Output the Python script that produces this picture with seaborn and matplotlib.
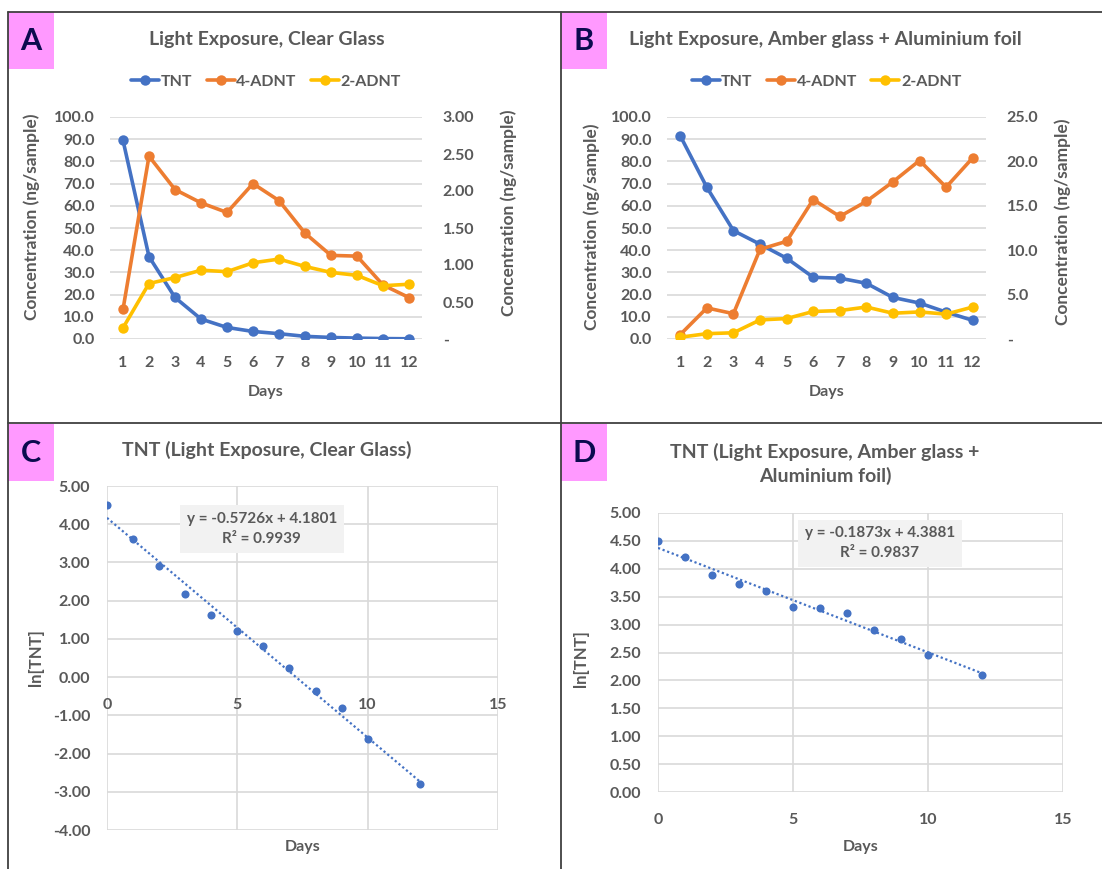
import matplotlib
matplotlib.use("Agg")
import matplotlib.pyplot as plt
import seaborn as sns
import numpy as np
from matplotlib.lines import Line2D
from matplotlib.patches import Rectangle
from matplotlib.ticker import FixedLocator, FixedFormatter

# ---- data ----
days = [1, 2, 3, 4, 5, 6, 7, 8, 9, 10, 11, 12]

# panel A: clear glass
a_tnt = [89.5, 37.1, 18.7, 9.0, 5.2, 3.4, 2.4, 1.2, 0.7, 0.4, 0.2, 0.1]
a_4adnt = [0.40, 2.47, 2.02, 1.84, 1.71, 2.10, 1.87, 1.43, 1.13, 1.12, 0.73, 0.56]
a_2adnt = [0.15, 0.75, 0.83, 0.93, 0.91, 1.03, 1.08, 0.98, 0.90, 0.86, 0.72, 0.74]

# panel B: amber glass + aluminium foil
b_tnt = [91.5, 68.3, 48.8, 42.7, 36.4, 27.8, 27.4, 25.1, 18.7, 16.2, 12.1, 8.4]
b_4adnt = [0.5, 3.5, 2.85, 10.1, 11.0, 15.7, 13.8, 15.5, 17.7, 20.1, 17.1, 20.4]
b_2adnt = [0.2, 0.6, 0.7, 2.15, 2.3, 3.1, 3.2, 3.6, 2.9, 3.05, 2.8, 3.6]

# panels C / D: ln[TNT] vs days
fit_days = [0, 1, 2, 3, 4, 5, 6, 7, 8, 9, 10, 12]
c_ln_tnt = [4.49, 3.61, 2.92, 2.17, 1.63, 1.20, 0.82, 0.25, -0.37, -0.81, -1.63, -2.79]
d_ln_tnt = [4.50, 4.22, 3.88, 3.72, 3.60, 3.32, 3.29, 3.21, 2.91, 2.75, 2.46, 2.09]

left_ticks = [0, 10, 20, 30, 40, 50, 60, 70, 80, 90, 100]
left_labels = ['0.0', '10.0', '20.0', '30.0', '40.0', '50.0', '60.0', '70.0', '80.0', '90.0', '100.0']
a_right_ticks = [0, 0.5, 1.0, 1.5, 2.0, 2.5, 3.0]
a_right_labels = ['-', '0.50', '1.00', '1.50', '2.00', '2.50', '3.00']
b_right_ticks = [0, 5, 10, 15, 20, 25]
b_right_labels = ['-', '5.0', '10.0', '15.0', '20.0', '25.0']
c_yticks = [-4, -3, -2, -1, 0, 1, 2, 3, 4, 5]
d_yticks = [0, 0.5, 1.0, 1.5, 2.0, 2.5, 3.0, 3.5, 4.0, 4.5, 5.0]
fit_xticks = [0, 5, 10, 15]

c_eq = "y = -0.5726x + 4.1801\nR\u00b2 = 0.9939"
d_eq = "y = -0.1873x + 4.3881\nR\u00b2 = 0.9837"

BLUE = '#4472C4'
ORANGE = '#ED7D31'
YELLOW = '#FFC000'
TEXT = '#595959'
GRID = '#D9D9D9'

W, H = 1102, 869

sns.set_theme(style="white")
plt.rcParams['font.family'] = ['Lato', 'DejaVu Sans']
plt.rcParams['axes.unicode_minus'] = False


def add_ax(fig, x0, y0, x1, y1):
    # pixel box -> figure fraction
    return fig.add_axes([x0 / W, 1 - y1 / H, (x1 - x0) / W, (y1 - y0) / H])


def style_ticks(ax, size=11.5):
    ax.tick_params(axis='both', length=0, labelsize=size, labelcolor=TEXT)
    for lab in ax.get_xticklabels() + ax.get_yticklabels():
        lab.set_fontweight('bold')


def line_panel(fig, box, tnt, adnt4, adnt2, rticks, rlabels, title, tx, lab_left, lab_right):
    ax = add_ax(fig, *box)
    ax2 = ax.twinx()
    kw = dict(marker='o', linewidth=2.6, markersize=7.5, markeredgewidth=0)
    sns.lineplot(x=days, y=tnt, ax=ax, color=BLUE, label='TNT', **kw)
    sns.lineplot(x=days, y=adnt4, ax=ax2, color=ORANGE, label='4-ADNT', **kw)
    sns.lineplot(x=days, y=adnt2, ax=ax2, color=YELLOW, label='2-ADNT', **kw)
    h1, l1 = ax.get_legend_handles_labels()
    h2, l2 = ax2.get_legend_handles_labels()
    ax.get_legend().remove()
    ax2.get_legend().remove()

    ax.set_xlim(0.5, 12.5)
    ax.set_ylim(0, 100)
    ax2.set_ylim(rticks[0], rticks[-1])
    ax.set_xticks(days)
    ax.set_xticklabels([str(d) for d in days])
    ax.yaxis.set_major_locator(FixedLocator(left_ticks))
    ax.yaxis.set_major_formatter(FixedFormatter(left_labels))
    ax2.yaxis.set_major_locator(FixedLocator(rticks))
    ax2.yaxis.set_major_formatter(FixedFormatter(rlabels))
    ax.grid(axis='y', color=GRID, linewidth=1.2)
    ax.set_axisbelow(True)
    for a in (ax, ax2):
        for s in a.spines.values():
            s.set_visible(False)
    style_ticks(ax)
    style_ticks(ax2)
    ax.tick_params(axis='x', pad=12)
    ax.tick_params(axis='y', pad=11)
    ax2.tick_params(axis='y', pad=15)

    ax.set_ylabel('Concentration (ng/sample)', color=TEXT, fontsize=12.5, fontweight='bold')
    ax2.set_ylabel('Concentration (ng/sample)', color=TEXT, fontsize=12.5, fontweight='bold')
    ax.yaxis.set_label_coords(lab_left[0], lab_left[1])
    ax2.yaxis.set_label_coords(lab_right[0], lab_right[1])
    ax.set_xlabel('')
    ax.text(0.5, -0.24, 'Days', transform=ax.transAxes, ha='center', va='center',
            color=TEXT, fontsize=11.5, fontweight='bold')

    fig.text(tx / W, 1 - 39 / H, title, ha='center', va='center', color=TEXT,
             fontsize=14, fontweight='bold')
    ax.legend(h1 + h2, l1 + l2, loc='center', bbox_to_anchor=(0.5, 1.16), ncol=3,
              frameon=False, handlelength=1.75, handletextpad=0.1, columnspacing=0.9,
              prop=dict(size=11.5, weight='bold'), labelcolor=TEXT)
    return ax


def fit_panel(fig, box, y, yticks, ylim, fmt, eq, eq_pos, xlab_y, at_zero):
    ax = add_ax(fig, *box)
    sns.regplot(x=fit_days, y=y, ax=ax, ci=None, color=BLUE,
                scatter_kws=dict(s=34, linewidths=0, alpha=1),
                line_kws=dict(linestyle=(0, (1, 1.2)), linewidth=1.6))
    ax.set_xlim(0, 15)
    ax.set_ylim(*ylim)
    ax.set_xticks(fit_xticks)
    ax.set_yticks(yticks)
    ax.set_yticklabels([fmt % v for v in yticks])
    ax.grid(True, color=GRID, linewidth=1.2)
    ax.set_axisbelow(True)
    for s in ax.spines.values():
        s.set_visible(False)
    if at_zero:
        ax.spines['bottom'].set_position(('data', 0))
    style_ticks(ax)
    ax.tick_params(axis='x', pad=15)
    ax.tick_params(axis='y', pad=12)
    ax.set_xlabel('')
    ax.set_ylabel('ln[TNT]', color=TEXT, fontsize=12, fontweight='bold')
    ax.text(0.5, xlab_y, 'Days', transform=ax.transAxes, ha='center', va='center',
            color=TEXT, fontsize=11.5, fontweight='bold')
    ax.text(eq_pos[0], eq_pos[1], eq, transform=ax.transAxes, ha='center', va='center',
            color=TEXT, fontsize=11, fontweight='bold', linespacing=1.5,
            bbox=dict(boxstyle='square,pad=0.45', facecolor='#F2F2F2', edgecolor='none'))
    return ax


fig = plt.figure(figsize=(W / 100, H / 100), dpi=100)

axA = line_panel(fig, (110, 117, 422, 339), a_tnt, a_4adnt, a_2adnt,
                 a_right_ticks, a_right_labels, 'Light Exposure, Clear Glass', 267,
                 (-0.224, 0.55), (1.25, 0.57))
axB = line_panel(fig, (667, 117, 986, 339), b_tnt, b_4adnt, b_2adnt,
                 b_right_ticks, b_right_labels, 'Light Exposure, Amber glass + Aluminium foil', 825,
                 (-0.21, 0.505), (1.216, 0.53))

axC = fit_panel(fig, (107, 486, 498, 830), c_ln_tnt, c_yticks, (-4, 5), '%.2f',
                c_eq, (0.396, 0.875), -0.05, True)
axC.yaxis.set_label_coords(-0.161, 0.5)
fig.text(267 / W, 1 - 450 / H, 'TNT (Light Exposure, Clear Glass)', ha='center', va='center',
         color=TEXT, fontsize=14, fontweight='bold')

axD = fit_panel(fig, (658, 513, 1063, 792), d_ln_tnt, d_yticks, (0, 5), '%.2f',
                d_eq, (0.548, 0.892), -0.197, False)
axD.yaxis.set_label_coords(-0.170, 0.48)
fig.text(825 / W, 1 - 464 / H, 'TNT (Light Exposure, Amber glass +\nAluminium foil)',
         ha='center', va='center', color=TEXT, fontsize=14, fontweight='bold', linespacing=1.45)

# panel frame lines
def fig_line(x0, y0, x1, y1):
    fig.add_artist(Line2D([x0 / W, x1 / W], [1 - y0 / H, 1 - y1 / H], transform=fig.transFigure,
                          color='#404040', linewidth=1.3))

fig_line(8, 12, W, 12)
fig_line(8, 12, 8, H)
fig_line(561, 12, 561, H)
fig_line(8, 423, W, 423)

# pink panel letters
for letter, (x0, y0) in zip(['A', 'B', 'C', 'D'], [(8, 12), (561, 12), (8, 424), (561, 424)]):
    fig.add_artist(Rectangle((x0 / W, 1 - (y0 + 57) / H), 46 / W, 57 / H,
                             transform=fig.transFigure, facecolor='#FF99FF', edgecolor='none'))
    fig.text((x0 + 23) / W, 1 - (y0 + 29) / H, letter, ha='center', va='center',
             fontsize=22, fontweight='bold', color='#0B0B4F')

fig.savefig('out.png', dpi=100)
